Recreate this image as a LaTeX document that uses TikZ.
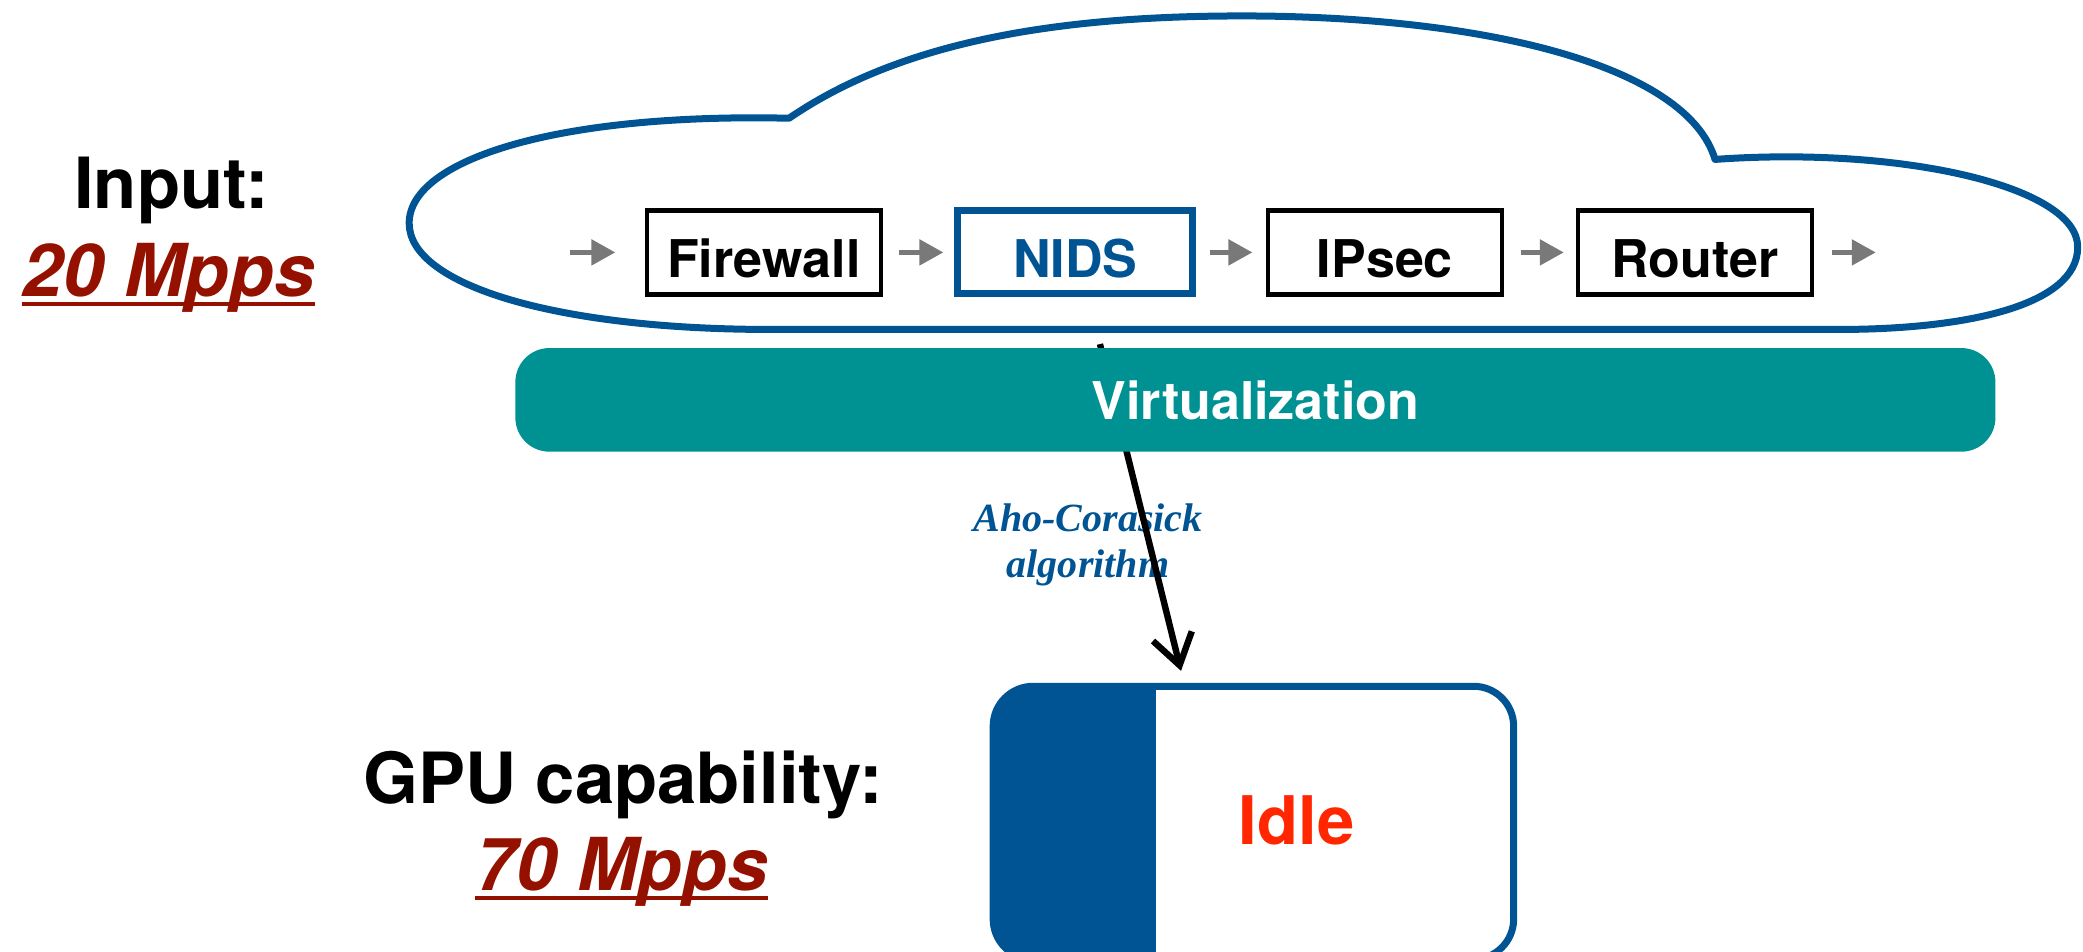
\documentclass[tikz,border=0pt]{standalone}
\usepackage{fontspec}
\setmainfont{TeX Gyre Heros}
\newfontfamily\algofont{Liberation Serif}
\usetikzlibrary{arrows.meta}
\definecolor{ocean}{RGB}{0,84,147}
\definecolor{tealbar}{RGB}{0,145,147}
\definecolor{cayenne}{RGB}{148,17,0}
\definecolor{alertred}{RGB}{255,38,0}
\definecolor{steel}{RGB}{121,121,121}
\begin{document}
\begin{tikzpicture}[x=0.6642pt, y=-0.6642pt,
  nf/.style={draw=black, line width=2.3pt, minimum width=117pt, minimum height=42pt,
    inner sep=0pt, text height=25pt, text depth=0pt,
    font=\fontsize{26}{30}\selectfont\bfseries, text=black},
  nfsel/.style={nf, draw=ocean, line width=3.5pt, minimum width=117.5pt, minimum height=41.5pt, text=ocean},
  flow/.style={draw=steel, line width=2.6pt, -{Triangle[length=12pt,width=12.5pt]}},
  biglabel/.style={inner sep=0pt, anchor=base, font=\fontsize{35.3}{40}\selectfont\bfseries, text=black},
  rate/.style={inner sep=0pt, anchor=base, font=\fontsize{36.5}{41}\selectfont\bfseries\itshape, text=cayenne},
  rateline/.style={draw=cayenne, line width=2pt},
  algolabel/.style={inner sep=0pt, anchor=base, font=\algofont\fontsize{20}{23}\selectfont\bfseries\itshape, text=ocean},
  probe/.style={draw=black, line width=3.2pt, -{Straight Barb[length=15pt,width=20pt]}},
  cloudline/.style={draw=ocean, line width=3.5pt, line join=round},
  layer/.style={fill=tealbar, rounded corners=17pt, minimum width=740pt, minimum height=51.8pt,
    inner sep=0pt, text=white, font=\fontsize{26}{30}\selectfont\bfseries},
  gpuline/.style={draw=ocean, line width=3.5pt, rounded corners=20pt}
]
\useasboundingbox (0,0) rectangle (1568,716);
\clip (0,0) rectangle (1568,716);

% input rate
\node[biglabel] (inlbl) at (129,157) {Input:};
\node[rate] (inrate) at (127,223) {20 Mpps};
\draw[rateline] ([yshift=-4pt]inrate.base west) -- ([yshift=-4pt]inrate.base east);

% service chain cloud
\draw[cloudline]
  (594,89) .. controls (680,30) and (800,12) .. (935,12)
  .. controls (1120,12) and (1270,50) .. (1291,120)
  .. controls (1430,110) and (1564,140) .. (1564,186)
  .. controls (1564,230) and (1480,248) .. (1384,248)
  -- (580,248)
  .. controls (420,248) and (308,215) .. (308,168)
  .. controls (308,120) and (420,85) .. (594,89) -- cycle;

% network functions
\node[nf] (fw) at (575,190) {Firewall};
\node[nfsel] (nids) at (809.5,190) {NIDS};
\node[nf] (ips) at (1042.5,190) {IPsec};
\node[nf] (rt) at (1276,190) {Router};

\coordinate (src) at (429,190);
\coordinate (sink) at (1412,190);
\draw[flow] (src) -- ([xshift=-14.6pt]fw.west);
\draw[flow] ([xshift=8pt]fw.east) -- ([xshift=-5.5pt]nids.west);
\draw[flow] ([xshift=6.6pt]nids.east) -- ([xshift=-6.6pt]ips.west);
\draw[flow] ([xshift=8.6pt]ips.east) -- ([xshift=-6pt]rt.west);
\draw[flow] ([xshift=8.6pt]rt.east) -- (sink);

% offload to the GPU
\node[algolabel] (aho1) at (819,400) {Aho-Corasick};
\node[algolabel] (aho2) at (819,435) {algorithm};
\coordinate (tap) at (828,259);
\coordinate (gpuin) at (889,505);
\draw[probe] (tap) -- (gpuin);

% virtualization layer
\node[layer] (virt) at (945,301) {Virtualization};

% GPU utilisation
\node[biglabel] (gpulbl) at (469,605) {GPU capability:};
\node[rate] (gpurate) at (468,670) {70 Mpps};
\draw[rateline] ([yshift=-4pt]gpurate.base west) -- ([yshift=-4pt]gpurate.base east);

\coordinate (gnw) at (747.6,516.6);
\coordinate (gse) at (1139.4,722);
\begin{scope}
  \clip (740,500) rectangle (870,740);
  \fill[ocean, rounded corners=20pt] (gnw) rectangle (gse);
\end{scope}
\draw[gpuline] (gnw) rectangle (gse);
\node[inner sep=0pt, anchor=base, text=alertred, font=\fontsize{33.5}{38}\selectfont\bfseries] (idle) at (976,636) {Idle};
\end{tikzpicture}
\end{document}
